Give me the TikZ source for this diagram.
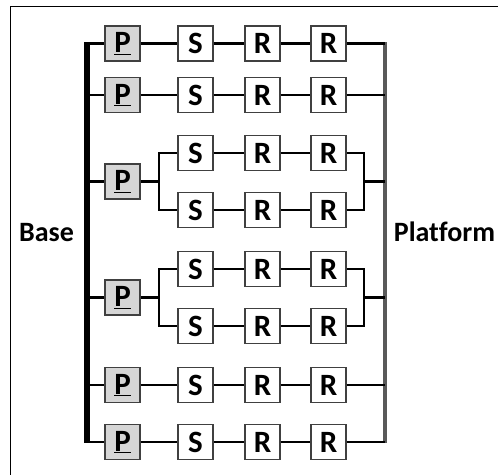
\documentclass[tikz,border=0pt]{standalone}
\usepackage{fontspec}
\setmainfont{Carlito}[Ligatures={NoCommon}]
\begin{document}
\begin{tikzpicture}[x=1pt,y=-1pt,
  box/.style={draw=black!75, line width=1.3pt, fill=white, minimum width=35pt, minimum height=35pt, inner sep=0pt, font=\fontsize{31}{31}\selectfont\bfseries},
  pbox/.style={box, fill=black!16},
  wire/.style={line width=2.2pt, black},
  lbl/.style={font=\fontsize{28}{28}\selectfont\bfseries, inner sep=0pt, anchor=base}]
\useasboundingbox (0,0) rectangle (498,474);
\begin{scope}
  \clip (0,0) rectangle (498,474);
  \draw[line width=1pt] (10,490) |- (510,6);
\end{scope}
% buses
\coordinate (lbt) at (87,42.4);
\coordinate (lbb) at (87,443.2);
\coordinate (rbt) at (385,42.4);
\coordinate (rbb) at (385,443.2);
\draw[line width=5.5pt] (lbt) -- (lbb);
\draw[line width=4pt, black!65] (rbt) -- (rbb);
% simple rows
\foreach \n/\y in {1/43.5, 2/95, 5/385, 6/442} {
  \node[pbox] (p\n) at (122.5,\y) {\underline{P}};
  \node[box] (s\n) at (195.5,\y) {S};
  \node[box] (ra\n) at (262.5,\y) {R};
  \node[box] (rb\n) at (328.5,\y) {R};
  \coordinate (l\n) at (87,\y);
  \coordinate (q\n) at (385,\y);
  \draw[wire] (l\n) -- (p\n.west);
  \draw[wire] (p\n) -- (s\n);
  \draw[wire] (s\n) -- (ra\n);
  \draw[wire] (ra\n) -- (rb\n);
  \draw[wire] (rb\n.east) -- (q\n);
}
% split rows
\foreach \n/\ya/\yb/\yp in {3/153/210/181.5, 4/269/326/297.5} {
  \node[pbox] (p\n) at (122.5,\yp) {\underline{P}};
  \coordinate (l\n) at (87,\yp);
  \coordinate (q\n) at (385,\yp);
  \coordinate (jl\n) at (159,\yp);
  \coordinate (jr\n) at (364,\yp);
  \draw[wire] (l\n) -- (p\n.west);
  \draw[wire] (p\n.east) -- (jl\n);
  \draw[wire] (jr\n) -- (q\n);
  \foreach \k/\y in {a/\ya, b/\yb} {
    \node[box] (s\n\k) at (195.5,\y) {S};
    \node[box] (ra\n\k) at (262.5,\y) {R};
    \node[box] (rb\n\k) at (328.5,\y) {R};
    \draw[wire] (jl\n) |- (s\n\k.west);
    \draw[wire] (s\n\k) -- (ra\n\k);
    \draw[wire] (ra\n\k) -- (rb\n\k);
    \draw[wire] (rb\n\k.east) -| (jr\n);
  }
}
% labels
\node[lbl] (base) at (46.5,241) {Base};
\node[lbl] (plat) at (444.5,241) {Platform};
\end{tikzpicture}
\end{document}
